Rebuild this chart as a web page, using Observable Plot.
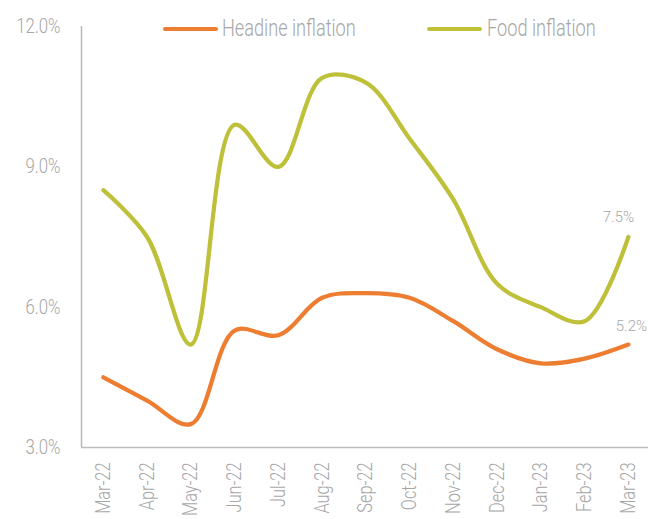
<!DOCTYPE html>
<html><head><meta charset="utf-8">
<script src="https://cdn.jsdelivr.net/npm/d3@7"></script>
<script src="https://cdn.jsdelivr.net/npm/@observablehq/plot@0.6"></script>
<style>
html,body{margin:0;padding:0;background:#fff;}
#wrap{position:relative;width:648px;height:519px;overflow:hidden;font-family:Roboto,"Liberation Sans",sans-serif;font-weight:300;}
.leg{position:absolute;top:17px;font-size:23px;line-height:23px;color:#a6a6a6;white-space:nowrap;transform:scaleX(0.79);transform-origin:0 0;}
.sw{position:absolute;top:27px;height:4px;width:55px;border-radius:2px;}
#wrap svg{position:absolute;left:0;top:0;}
</style></head>
<body><div id="wrap"></div>
<script>
const months = ["Mar-22","Apr-22","May-22","Jun-22","Jul-22","Aug-22","Sep-22","Oct-22","Nov-22","Dec-22","Jan-23","Feb-23","Mar-23"];
const headline = [4.5,4.0,3.5,5.5,5.4,6.2,6.3,6.2,5.7,5.1,4.8,4.9,5.2];
const food = [8.5,7.5,5.2,9.9,9.0,10.9,10.8,9.6,8.3,6.5,6.0,5.7,7.5];
const seriesNames = ["Headine inflation","Food inflation"];
const seriesColors = ["#ED7D31","#BFC03A"];
const yTicks = [3,6,9,12];

const rows = [];
months.forEach((m,i)=>{
  rows.push({i, month:m, value:headline[i], series:seriesNames[0]});
  rows.push({i, month:m, value:food[i], series:seriesNames[1]});
});
const last = months.length-1;
const lastHead = rows.filter(d=>d.i===last && d.series===seriesNames[0]);
const lastFood = rows.filter(d=>d.i===last && d.series===seriesNames[1]);
const font = 'Roboto,"Liberation Sans",sans-serif';
const grey = "#a6a6a6";

const chart = Plot.plot({
  width: 648, height: 519,
  marginLeft: 81, marginRight: 0, marginTop: 26, marginBottom: 72,
  style: {fontFamily: font, fontWeight: 300, color: grey, background: "transparent", overflow: "visible"},
  x: {type: "linear", domain: [-0.5, months.length - 0.54], axis: null},
  y: {domain: [3, 12], axis: null},
  color: {domain: seriesNames, range: seriesColors},
  marks: [
    Plot.axisY({ticks: yTicks, tickSize: 0, tickPadding: 21, tickFormat: d => d.toFixed(1) + "%", fontSize: 20, fill: grey, label: null}),
    Plot.axisX({ticks: d3.range(months.length), tickFormat: i => months[i], tickSize: 0, tickRotate: -90, tickPadding: 15, fontSize: 20, fill: grey, label: null}),
    Plot.ruleX([-0.5], {stroke: "#bcbcbc", strokeWidth: 1.6}),
    Plot.ruleY([3], {stroke: "#bcbcbc", strokeWidth: 1.6}),
    Plot.line(rows, {x: "i", y: "value", z: "series", stroke: "series", strokeWidth: 4.25, curve: "catmull-rom", strokeLinecap: "round", strokeLinejoin: "round"}),
    Plot.text(lastFood, {x: "i", y: "value", text: d => d.value.toFixed(1) + "%", dx: -10, dy: -20, fontSize: 15, fill: grey}),
    Plot.text(lastHead, {x: "i", y: "value", text: d => d.value.toFixed(1) + "%", dx: 3, dy: -18, fontSize: 15, fill: grey})
  ]
});
// condense the tick labels to match the narrow typeface of the reference
chart.querySelectorAll('g[aria-label="y-axis tick label"] text').forEach(el => {
  const t = el.getAttribute("transform");
  if (t) el.setAttribute("transform", t + " scale(0.84,1)");
});
chart.querySelectorAll('g[aria-label="x-axis tick label"] text').forEach(el => {
  const t = el.getAttribute("transform");
  if (t) el.setAttribute("transform", t + " scale(0.82,1)");
});
const wrap = document.getElementById("wrap");
wrap.appendChild(chart);

const legendPos = [{sw:163, tx:222},{sw:427, tx:487}];
seriesNames.forEach((name,k)=>{
  const s = document.createElement("div");
  s.className = "sw"; s.style.left = legendPos[k].sw + "px"; s.style.background = seriesColors[k];
  const t = document.createElement("div");
  t.className = "leg"; t.style.left = legendPos[k].tx + "px"; t.textContent = name;
  wrap.appendChild(s); wrap.appendChild(t);
});
</script>
</body></html>
